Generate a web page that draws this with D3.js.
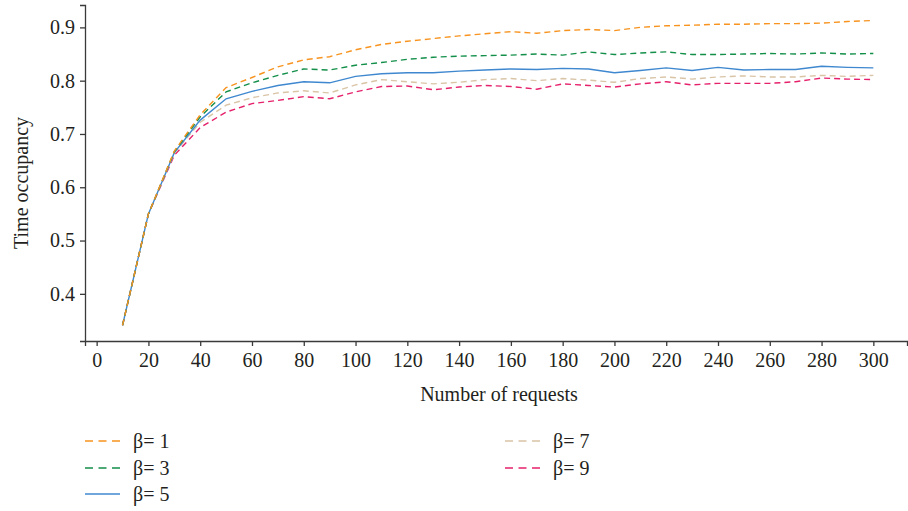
<!DOCTYPE html>
<html>
<head>
<meta charset="utf-8">
<script src="https://cdnjs.cloudflare.com/ajax/libs/d3/7.8.5/d3.min.js"></script>
<style>
  body { margin: 0; background: #fff; }
  text { font-family: 'Liberation Serif', 'Times New Roman', serif; fill: #231f20; }
  .axis path, .axis line { stroke: #3a3a3a; stroke-width: 1.3; }
  .line { fill: none; stroke-width: 1.4; }
</style>
</head>
<body>
<div id="chart"></div>
<script>
// values
const requests = [10, 20, 30, 40, 50, 60, 70, 80, 90, 100, 110, 120, 130, 140, 150,
  160, 170, 180, 190, 200, 210, 220, 230, 240, 250, 260, 270, 280, 290, 300];

const beta1 = [0.341, 0.550, 0.668, 0.736, 0.787, 0.806, 0.826, 0.839, 0.845, 0.858,
  0.868, 0.874, 0.879, 0.884, 0.888, 0.892, 0.889, 0.894, 0.896, 0.894,
  0.900, 0.903, 0.904, 0.906, 0.906, 0.907, 0.907, 0.908, 0.911, 0.913];
const beta3 = [0.341, 0.550, 0.667, 0.732, 0.779, 0.796, 0.810, 0.822, 0.820, 0.829,
  0.834, 0.840, 0.844, 0.846, 0.847, 0.848, 0.850, 0.848, 0.854, 0.849,
  0.852, 0.854, 0.849, 0.849, 0.850, 0.851, 0.850, 0.852, 0.850, 0.851];
const beta5 = [0.341, 0.550, 0.665, 0.726, 0.766, 0.780, 0.791, 0.798, 0.796, 0.808,
  0.813, 0.815, 0.815, 0.818, 0.820, 0.822, 0.821, 0.823, 0.822, 0.815,
  0.819, 0.824, 0.819, 0.825, 0.820, 0.821, 0.821, 0.827, 0.825, 0.824];
const beta7 = [0.341, 0.550, 0.664, 0.722, 0.754, 0.768, 0.777, 0.781, 0.777, 0.792,
  0.802, 0.798, 0.794, 0.797, 0.802, 0.804, 0.800, 0.804, 0.801, 0.797,
  0.804, 0.807, 0.803, 0.807, 0.809, 0.807, 0.807, 0.810, 0.808, 0.810];
const beta9 = [0.341, 0.550, 0.660, 0.712, 0.741, 0.757, 0.763, 0.770, 0.766, 0.779,
  0.789, 0.790, 0.783, 0.788, 0.791, 0.789, 0.784, 0.794, 0.791, 0.788,
  0.794, 0.798, 0.792, 0.795, 0.795, 0.795, 0.798, 0.805, 0.803, 0.802];

const seriesNames = ['β= 1', 'β= 3', 'β= 5', 'β= 7', 'β= 9'];
const seriesValues = [beta1, beta3, beta5, beta7, beta9];
const xTicks = [0, 20, 40, 60, 80, 100, 120, 140, 160, 180, 200, 220, 240, 260, 280, 300];
const yTicks = [0.4, 0.5, 0.6, 0.7, 0.8, 0.9];

const colors = ['#f7931e', '#138f4a', '#3f88d0', '#d9c4a6', '#e6216c'];
const dashes = ['6,4', '6,4', null, '6,4', '6,4'];

const margin = {
  top: 5, right: 1, bottom: 170, left: 85,
};
const width = 908 - margin.left - margin.right;
const height = 511 - margin.top - margin.bottom;

const x = d3.scaleLinear().domain([-4.5, 313]).range([0, width]);
const y = d3.scaleLinear().domain([0.3115, 0.942]).range([height, 0]);

const svg = d3.select('#chart').append('svg')
  .attr('width', width + margin.left + margin.right)
  .attr('height', height + margin.top + margin.bottom);

const g = svg.append('g')
  .attr('transform', `translate(${margin.left},${margin.top})`);

// axes
g.append('g')
  .attr('class', 'axis')
  .attr('transform', `translate(0,${height})`)
  .call(d3.axisBottom(x).tickValues(xTicks).tickSizeOuter(0).tickSize(5).tickPadding(7));

g.append('g')
  .attr('class', 'axis')
  .call(d3.axisLeft(y).tickValues(yTicks).tickFormat(d3.format('.1f')).tickSizeOuter(0).tickSize(5).tickPadding(5));

g.selectAll('.axis text')
  .style('font-size', '20px')
  .style('font-family', "'Liberation Serif', serif")
  .attr('fill', '#231f20');

g.append('text')
  .attr('x', width / 2 + 3)
  .attr('y', height + 60)
  .attr('text-anchor', 'middle')
  .style('font-size', '20px')
  .text('Number of requests');

g.append('text')
  .attr('transform', 'rotate(-90)')
  .attr('x', -178)
  .attr('y', -64)
  .attr('dy', '.35em')
  .attr('text-anchor', 'middle')
  .style('font-size', '20px')
  .text('Time occupancy');

// lines
const data = seriesNames.map((name, i) => ({
  name,
  color: colors[i],
  dash: dashes[i],
  values: requests.map((r, j) => ({ r, v: seriesValues[i][j] })),
}));

const valueline = d3.line()
  .x(d => x(d.r))
  .y(d => y(d.v));

// draw back to front so beta=1 sits on top like the original
g.selectAll('.line')
  .data(data.slice().reverse())
  .enter().append('path')
  .attr('class', 'line')
  .attr('d', d => valueline(d.values))
  .style('stroke', d => d.color)
  .style('stroke-dasharray', d => d.dash);

// legend, two columns
const legendPos = [[85, 441], [85, 468], [85, 494], [505, 441], [505, 468]];

const legend = svg.selectAll('.legend')
  .data(data)
  .enter().append('g')
  .attr('class', 'legend')
  .attr('transform', (d, i) => `translate(${legendPos[i][0]},${legendPos[i][1]})`);

legend.append('line')
  .attr('x1', 0)
  .attr('x2', 35)
  .attr('y1', 0)
  .attr('y2', 0)
  .style('stroke', d => d.color)
  .style('stroke-width', 1.4)
  .style('stroke-dasharray', d => (d.dash ? '8,5.5' : null));

legend.append('text')
  .attr('x', 48)
  .attr('y', 0)
  .attr('dy', '.35em')
  .style('font-size', '20px')
  .text(d => d.name);
</script>
</body>
</html>
